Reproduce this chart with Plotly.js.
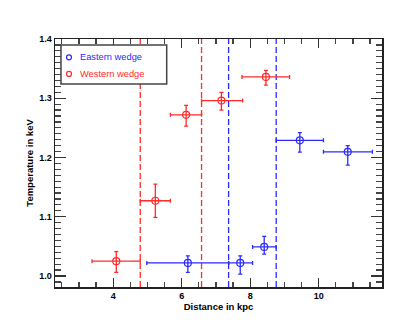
<!DOCTYPE html>
<html>
<head>
<meta charset="utf-8">
<script src="https://cdn.plot.ly/plotly-3.0.1.min.js"></script>
<style>
  html, body { margin: 0; padding: 0; background: #fff; }
  #chart { width: 415px; height: 332px; }
</style>
</head>
<body>
<div id="chart"></div>
<script>
// Western wedge
var westX   = [4.09, 5.23, 6.13, 7.16, 8.46];
var westXlo = [3.38, 4.79, 5.67, 6.58, 7.76];
var westXhi = [4.79, 5.67, 6.58, 7.78, 9.15];
var westT   = [1.025, 1.127, 1.272, 1.296, 1.336];
var westTlo = [1.006, 1.099, 1.253, 1.280, 1.322];
var westThi = [1.041, 1.155, 1.288, 1.310, 1.347];

// Eastern wedge
var eastX   = [6.18, 7.71, 8.41, 9.45, 10.85];
var eastXlo = [4.98, 7.37, 8.07, 8.76, 10.14];
var eastXhi = [7.37, 8.07, 8.76, 10.14, 11.57];
var eastT   = [1.022, 1.022, 1.049, 1.229, 1.2095];
var eastTlo = [1.006, 1.003, 1.037, 1.209, 1.187];
var eastThi = [1.034, 1.034, 1.067, 1.242, 1.220];

// dashed boundaries
var westEdges = [4.79, 6.58];
var eastEdges = [7.37, 8.76];

var names = ['Eastern wedge', 'Western wedge'];

var RED = '#ff2b2b';
var BLUE = '#2b2bff';
var FONT = 'Liberation Sans, Arial, sans-serif';

function diff(a, b) {
    var out = [];
    for (let i = 0; i < a.length; i++) out.push(+(a[i] - b[i]).toFixed(4));
    return out;
}

function makeTrace(name, x, xlo, xhi, t, tlo, thi, color) {
    return {
        x: x, y: t,
        mode: 'markers',
        type: 'scatter',
        name: name,
        showlegend: false,
        marker: { symbol: 'circle-open', size: 7, color: color, line: { width: 1.2, color: color } },
        error_x: { type: 'data', symmetric: false, array: diff(xhi, x), arrayminus: diff(x, xlo),
                   color: color, thickness: 1.3, width: 2 },
        error_y: { type: 'data', symmetric: false, array: diff(thi, t), arrayminus: diff(t, tlo),
                   color: color, thickness: 1.3, width: 2 }
    };
}

var data = [
    makeTrace(names[0], eastX, eastXlo, eastXhi, eastT, eastTlo, eastThi, BLUE),
    makeTrace(names[1], westX, westXlo, westXhi, westT, westTlo, westThi, RED)
];

var shapes = [];
westEdges.forEach(function(v) {
    shapes.push({ type: 'line', xref: 'x', yref: 'paper', x0: v, x1: v, y0: 0, y1: 1, layer: 'below',
                  line: { color: RED, width: 1.3, dash: '6px,3px' } });
});
eastEdges.forEach(function(v) {
    shapes.push({ type: 'line', xref: 'x', yref: 'paper', x0: v, x1: v, y0: 0, y1: 1, layer: 'below',
                  line: { color: BLUE, width: 1.3, dash: '6px,3px' } });
});

// legend box drawn by hand (compact, like the original)
shapes.push({ type: 'rect', xref: 'paper', yref: 'paper', x0: 0.0183, x1: 0.3416, y0: 0.8185, y1: 0.9758,
              layer: 'above', fillcolor: '#fff', line: { color: '#444', width: 1.5 } });
var rowY = [0.926, 0.859];
var legColors = [BLUE, RED];
var annotations = [];
for (let i = 0; i < names.length; i++) {
    shapes.push({ type: 'circle', xref: 'paper', yref: 'paper', xsizemode: 'pixel', ysizemode: 'pixel',
                  xanchor: 0.0428, yanchor: rowY[i], x0: -2.5, x1: 2.5, y0: -2.5, y1: 2.5,
                  layer: 'above', line: { color: legColors[i], width: 1.2 } });
    annotations.push({ xref: 'paper', yref: 'paper', x: 0.0694, y: rowY[i], xanchor: 'left', yanchor: 'middle',
                       showarrow: false, text: names[i],
                       font: { family: FONT, size: 9.3, color: legColors[i] } });
}

var layout = {
    width: 415, height: 332,
    margin: { l: 55, r: 33, t: 39, b: 45 },
    paper_bgcolor: '#fff', plot_bgcolor: '#fff',
    font: { family: FONT, size: 9, color: '#000' },
    showlegend: false,
    xaxis: {
        range: [2.3, 11.85],
        tickmode: 'array', tickvals: [4, 6, 8, 10], ticktext: ['4', '6', '8', '10'],
        ticks: 'inside', ticklen: 9, tickwidth: 1.2, tickcolor: '#333',
        minor: { dtick: 0.5, tick0: 0, ticks: 'inside', ticklen: 5, tickwidth: 1.2, tickcolor: '#444', showgrid: false },
        showline: true, linecolor: '#222', linewidth: 1.5, mirror: 'allticks',
        showgrid: false, zeroline: false,
        tickfont: { family: FONT, size: 9, color: '#000', weight: 'bold' },
        title: { text: '<b>Distance in kpc</b>', standoff: 2,
                 font: { family: FONT, size: 9.5, color: '#000' } }
    },
    yaxis: {
        range: [0.9814, 1.4],
        tickmode: 'array', tickvals: [1.0, 1.1, 1.2, 1.3, 1.4], ticktext: ['1.0', '1.1', '1.2', '1.3', '1.4'],
        ticks: 'inside', ticklen: 11, tickwidth: 1.2, tickcolor: '#333',
        minor: { dtick: 0.01, tick0: 0, ticks: 'inside', ticklen: 6, tickwidth: 1.2, tickcolor: '#444', showgrid: false },
        showline: true, linecolor: '#222', linewidth: 1.5, mirror: 'allticks',
        showgrid: false, zeroline: false,
        tickfont: { family: FONT, size: 9, color: '#000', weight: 'bold' },
        title: { text: '<b>Temperature in keV</b>', standoff: 4,
                 font: { family: FONT, size: 9.5, color: '#000' } }
    },
    shapes: shapes,
    annotations: annotations
};

Plotly.newPlot('chart', data, layout, { displayModeBar: false, staticPlot: true });
</script>
</body>
</html>
